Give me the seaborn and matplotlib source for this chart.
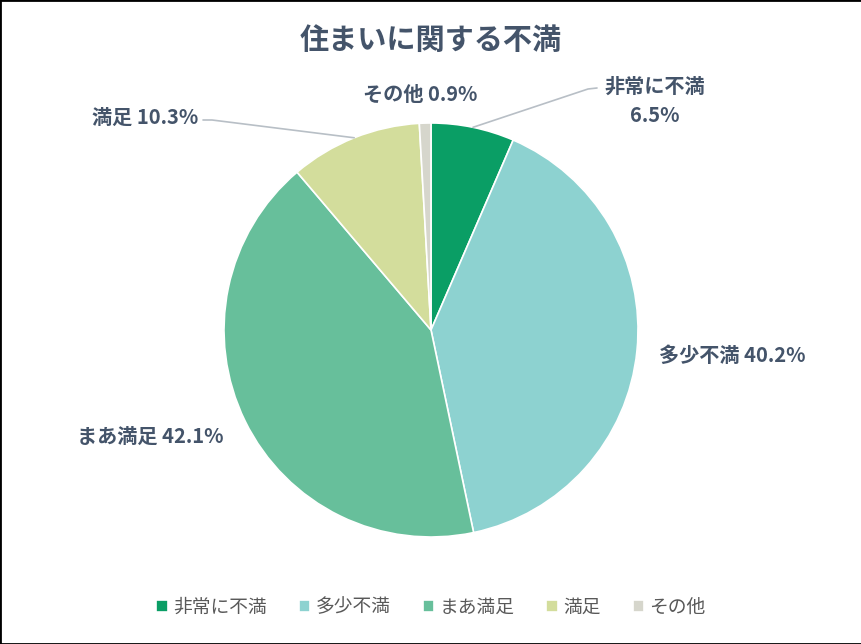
import numpy as np
import matplotlib
matplotlib.use("Agg")
import matplotlib.pyplot as plt
import seaborn as sns
from matplotlib.patches import Rectangle

# data
categories = ["非常に不満", "多少不満", "まあ満足", "満足", "その他"]
shares = [6.5, 40.2, 42.1, 10.3, 0.9]
colors = ["#0a9e65", "#8dd2d0", "#67bf9b", "#d3dd9c", "#d6d6cc"]

sns.set_theme(style="white")
plt.rcParams["font.family"] = ["Noto Sans CJK JP", "DejaVu Sans"]

text_col = "#44546a"
line_col = "#b8bfc6"

fig = plt.figure(figsize=(8.62, 6.44), dpi=100)
ax = fig.add_axes([0, 0, 1, 1])

R = 207.0  # px per data unit (pie radius)
cx, cy = 431, 330

palette = sns.color_palette(colors)
wedges, _ = ax.pie(shares, colors=palette, startangle=90, counterclock=False,
                   radius=1, center=(0, 0), frame=True,
                   wedgeprops=dict(edgecolor="white", linewidth=1.2))
ax.set_xlim(-cx / R, (862 - cx) / R)
ax.set_ylim(-(644 - cy) / R, cy / R)
ax.set_aspect("equal")
ax.axis("off")


def px(x, y):
    return (x - cx) / R, (cy - y) / R


# wedge mid points on the rim
cum = np.cumsum([0] + shares[:-1])
mids = [np.deg2rad(90 - 3.6 * (c + s / 2)) for c, s in zip(cum, shares)]
rim = [(np.cos(a), np.sin(a)) for a in mids]

lbl = dict(color=text_col, fontsize=14.5, fontweight="bold", ha="center", va="center")

# 非常に不満
p1, p2 = px(588, 89), px(597, 88)
ax.plot([rim[0][0], p1[0], p2[0]], [rim[0][1], p1[1], p2[1]], color=line_col, lw=1.2)
ax.text(*px(655, 101), f"{categories[0]}\n{shares[0]}%", linespacing=1.45, **lbl)

# 多少不満
ax.text(*px(732, 355), f"{categories[1]} {shares[1]}%", **lbl)
# まあ満足
ax.text(*px(150, 436), f"{categories[2]} {shares[2]}%", **lbl)
# 満足
q1, q2 = px(212, 120), px(203, 120)
ax.plot([rim[3][0], q1[0], q2[0]], [rim[3][1], q1[1], q2[1]], color=line_col, lw=1.2)
ax.text(*px(198, 117), f"{categories[3]} {shares[3]}%",
        **{**lbl, "ha": "right"})
# その他
ax.text(*px(420, 94), f"{categories[4]} {shares[4]}%", **lbl)

ax.text(*px(431, 40), "住まいに関する不満", color=text_col, fontsize=21,
        fontweight="bold", ha="center", va="center")

ax.legend(wedges, categories, loc="center", bbox_to_anchor=(0.5, 1 - 607 / 644),
          ncol=5, frameon=False, handlelength=0.6, handleheight=0.6,
          handletextpad=0.3, columnspacing=1.7,
          prop={"size": 13.5}, labelcolor="#595959")

fig.patches.append(Rectangle((0, 0), 1, 1, transform=fig.transFigure,
                             fill=False, edgecolor="black", linewidth=2))

fig.savefig("out.png", dpi=100)
